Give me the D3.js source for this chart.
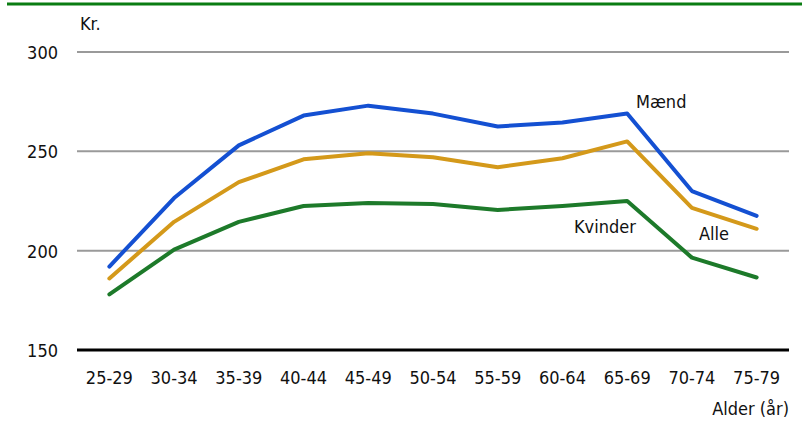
<!DOCTYPE html>
<html>
<head>
<meta charset="utf-8">
<script src="https://cdn.jsdelivr.net/npm/d3@7"></script>
<style>
  body { margin: 0; background: #fff; }
  text { font-family: "DejaVu Sans Condensed", "DejaVu Sans", sans-serif; font-stretch: condensed; fill: #111; }
</style>
</head>
<body>
<script>
// data
var ages = ['25-29', '30-34', '35-39', '40-44', '45-49', '50-54', '55-59', '60-64', '65-69', '70-74', '75-79']
var maend   = [192, 226.5, 253, 268, 273, 269, 262.5, 264.5, 269, 230, 217.5]
var alle    = [186, 214.5, 234.5, 246, 249, 247, 242, 246.5, 255, 221.5, 211]
var kvinder = [178, 200.5, 214.5, 222.5, 224, 223.5, 220.5, 222.5, 225, 196.5, 186.5]
var yTicks = [150, 200, 250, 300]

var width = 802, height = 421
var plotLeft = 77, plotRight = 789, plotTop = 52, plotBottom = 350
var fs = 18

var svg = d3.select('body').append('svg').attr('width', width).attr('height', height)

// green rule at the top
svg.append('line').attr('x1', 7).attr('x2', 802).attr('y1', 4).attr('y2', 4)
   .attr('stroke', '#0a7d12').attr('stroke-width', 3)

var x = d3.scaleBand().domain(ages).range([plotLeft, plotRight])
var y = d3.scaleLinear().domain([150, 300]).range([plotBottom, plotTop])

// gridlines
svg.selectAll('.grid').data(yTicks.filter(d => d > 150)).enter().append('line')
   .attr('x1', plotLeft).attr('x2', plotRight)
   .attr('y1', d => y(d)).attr('y2', d => y(d))
   .attr('stroke', '#9a9a9a').attr('stroke-width', 2)

svg.selectAll('.ylab').data(yTicks).enter().append('text')
   .attr('x', 58).attr('y', d => y(d) + 7)
   .attr('text-anchor', 'end').attr('font-size', fs)
   .text(d => d)

svg.append('text').attr('x', 80).attr('y', 30).attr('font-size', fs).text('Kr.')

// x axis
svg.append('line').attr('x1', plotLeft).attr('x2', plotRight).attr('y1', plotBottom).attr('y2', plotBottom)
   .attr('stroke', '#000').attr('stroke-width', 3)

svg.selectAll('.xlab').data(ages).enter().append('text')
   .attr('x', d => x(d) + x.bandwidth() / 2).attr('y', 384)
   .attr('text-anchor', 'middle').attr('font-size', fs)
   .text(d => d)

svg.append('text').attr('x', plotRight).attr('y', 415).attr('text-anchor', 'end')
   .attr('font-size', fs).text('Alder (år)')

var line = d3.line()
   .x((d, i) => x(ages[i]) + x.bandwidth() / 2)
   .y(d => y(d))

var series = [
  {name: 'Kvinder', vals: kvinder, color: '#1d7a2a', lx: 574, ly: 233},
  {name: 'Alle', vals: alle, color: '#d4991a', lx: 699, ly: 240},
  {name: 'Mænd', vals: maend, color: '#1450d2', lx: 636, ly: 108}
]

svg.selectAll('.series').data(series).enter().append('path')
   .attr('d', d => line(d.vals))
   .attr('fill', 'none')
   .attr('stroke', d => d.color)
   .attr('stroke-width', 4)
   .attr('stroke-linecap', 'round')
   .attr('stroke-linejoin', 'round')

svg.selectAll('.slab').data(series).enter().append('text')
   .attr('x', d => d.lx).attr('y', d => d.ly)
   .attr('font-size', fs)
   .text(d => d.name)
</script>
</body>
</html>
